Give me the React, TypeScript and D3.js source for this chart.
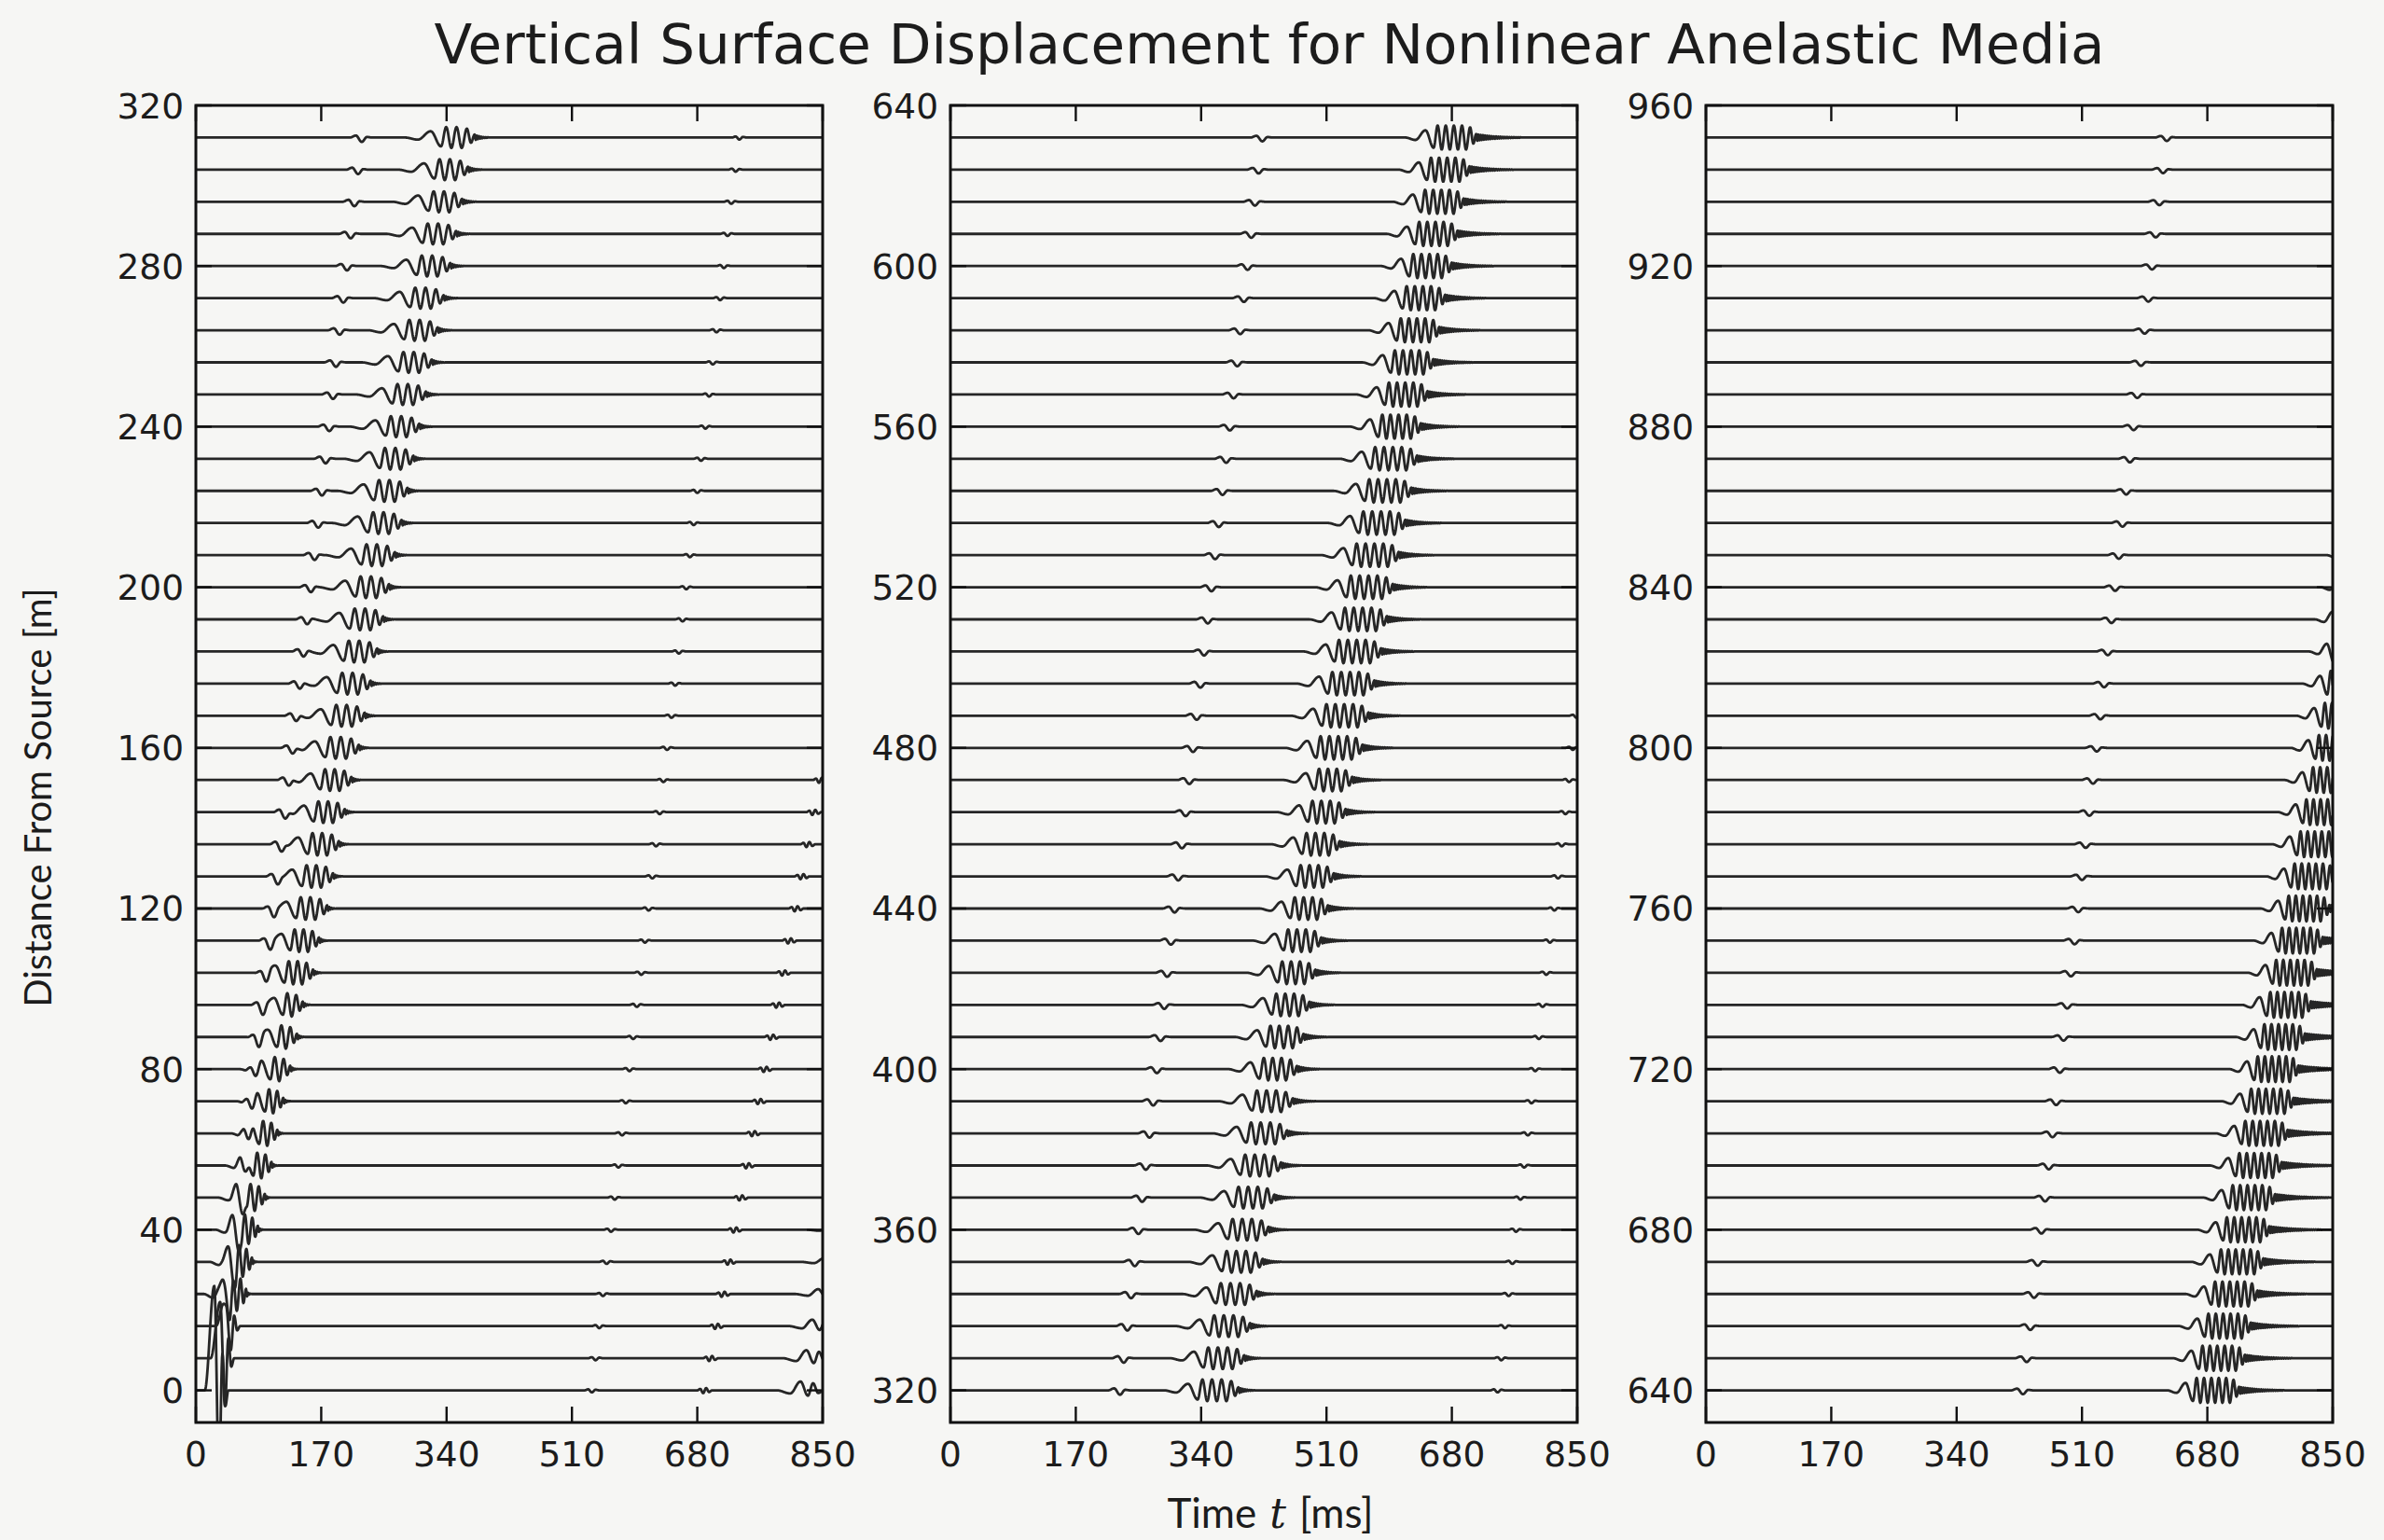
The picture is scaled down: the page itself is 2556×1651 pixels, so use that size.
import React, { useMemo } from "react";
import * as d3 from "d3";

// ---------------- DATA ----------------
const TITLE = "Vertical Surface Displacement for Nonlinear Anelastic Media";
const Y_LABEL = "Distance From Source [m]";
const X_TICKS = [0, 170, 340, 510, 680, 850];
const TIME_DOMAIN: [number, number] = [0, 850];
const Y_TICKS = [
  [0, 40, 80, 120, 160, 200, 240, 280, 320],
  [320, 360, 400, 440, 480, 520, 560, 600, 640],
  [640, 680, 720, 760, 800, 840, 880, 920, 960],
];
const Y_DOMAINS: [number, number][] = [
  [-8, 320],
  [312, 640],
  [632, 960],
];

// receiver offsets [m]
const OFFSETS = [
  0, 8, 16, 24, 32, 40, 48, 56, 64, 72, 80, 88, 96, 104, 112, 120, 128, 136, 144, 152,
  160, 168, 176, 184, 192, 200, 208, 216, 224, 232, 240, 248, 256, 264, 272, 280, 288, 296, 304, 312,
  320, 328, 336, 344, 352, 360, 368, 376, 384, 392, 400, 408, 416, 424, 432, 440, 448, 456, 464, 472,
  480, 488, 496, 504, 512, 520, 528, 536, 544, 552, 560, 568, 576, 584, 592, 600, 608, 616, 624, 632,
  640, 648, 656, 664, 672, 680, 688, 696, 704, 712, 720, 728, 736, 744, 752, 760, 768, 776, 784, 792,
  800, 808, 816, 824, 832, 840, 848, 856, 864, 872, 880, 888, 896, 904, 912, 920, 928, 936, 944, 952,
];

// direct P arrival (centre of small wiggle) [ms]
const P_TIME = [
  28, 33, 38, 43, 48, 53, 58, 63, 68, 73, 78, 82, 87, 92, 97, 102, 107, 112, 117, 122,
  127, 132, 137, 142, 147, 152, 157, 162, 167, 172, 177, 182, 186, 191, 196, 201, 206, 211, 216, 221,
  226, 231, 236, 241, 246, 251, 256, 261, 266, 271, 276, 281, 286, 290, 295, 300, 305, 310, 315, 320,
  325, 330, 335, 340, 345, 350, 355, 360, 365, 370, 375, 380, 385, 389, 394, 399, 404, 409, 414, 419,
  426, 431, 436, 441, 446, 451, 456, 461, 466, 471, 476, 481, 486, 491, 496, 501, 506, 511, 516, 521,
  526, 531, 536, 541, 546, 551, 556, 561, 566, 571, 576, 581, 586, 591, 596, 601, 606, 611, 616, 621,
];
// P amplitude [m]
const P_AMP = [
  0, 0, 2, 3, 3.5, 4, 4, 3.4, 3, 2.6, 2.3, 2.1, 1.9, 1.8, 1.7, 1.6, 1.5, 1.45, 1.4, 1.35,
  1.3, 1.3, 1.25, 1.25, 1.2, 1.2, 1.2, 1.15, 1.15, 1.15, 1.1, 1.1, 1.1, 1.1, 1.1, 1.1, 1.1, 1.1, 1.1, 1.1,
  1.1, 1.1, 1.1, 1.05, 1.05, 1.05, 1.05, 1.05, 1.05, 1.05, 1, 1, 1, 1, 1, 1, 1, 1, 1, 1,
  1, 1, 1, 1, 1, 1, 1, 1, 1, 1, 0.95, 0.95, 0.95, 0.95, 0.95, 0.95, 0.95, 0.95, 0.95, 0.95,
  0.95, 0.95, 0.95, 0.95, 0.95, 0.95, 0.95, 0.95, 0.95, 0.95, 0.9, 0.9, 0.9, 0.9, 0.9, 0.9, 0.9, 0.9, 0.9, 0.9,
  0.9, 0.9, 0.9, 0.9, 0.9, 0.9, 0.9, 0.9, 0.9, 0.9, 0.85, 0.85, 0.85, 0.85, 0.85, 0.85, 0.85, 0.85, 0.85, 0.85,
];

// surface-wave packet centre [ms]
const R_TIME = [
  28, 36, 44, 53, 61, 69, 77, 86, 94, 102, 110, 119, 127, 135, 143, 152, 160, 168, 176, 185,
  193, 201, 209, 218, 226, 234, 242, 251, 259, 267, 275, 284, 292, 300, 308, 317, 325, 333, 341, 350,
  358, 366, 374, 383, 391, 399, 407, 416, 424, 432, 440, 449, 457, 465, 473, 482, 490, 498, 506, 515,
  523, 531, 539, 548, 556, 564, 572, 581, 589, 597, 605, 614, 622, 630, 638, 647, 655, 663, 671, 680,
  688, 696, 704, 713, 721, 729, 737, 746, 754, 762, 770, 779, 787, 795, 803, 812, 820, 828, 836, 845,
  853, 861, 869, 878, 886, 894, 902, 911, 919, 927, 935, 944, 952, 960, 968, 977, 985, 993, 1001, 1010,
];
// surface-wave amplitude [m]
const R_AMP = [
  26, 14, 7, 4.5, 3.8, 3.5, 3.3, 3.2, 3.1, 3, 3, 2.9, 2.9, 2.9, 2.8, 2.8, 2.8, 2.8, 2.7, 2.7,
  2.7, 2.7, 2.7, 2.7, 2.7, 2.7, 2.7, 2.7, 2.7, 2.7, 2.6, 2.6, 2.6, 2.6, 2.6, 2.6, 2.6, 2.6, 2.6, 2.6,
  2.7, 2.7, 2.7, 2.7, 2.7, 2.7, 2.7, 2.7, 2.7, 2.7, 2.8, 2.8, 2.8, 2.8, 2.8, 2.8, 2.8, 2.8, 2.8, 2.8,
  2.9, 2.9, 2.9, 2.9, 2.9, 2.9, 2.9, 2.9, 2.9, 2.9, 3, 3, 3, 3, 3, 3, 3, 3, 3, 3,
  3.1, 3.1, 3.1, 3.1, 3.1, 3.1, 3.1, 3.1, 3.1, 3.1, 3.2, 3.2, 3.2, 3.2, 3.2, 3.2, 3.2, 3.2, 3.2, 3.2,
  3.2, 3.2, 3.2, 3.2, 3.2, 3.2, 3.2, 3.2, 3.2, 3.2, 3.3, 3.3, 3.3, 3.3, 3.3, 3.3, 3.3, 3.3, 3.3, 3.3,
];
// number of main cycles in the packet (0 = near-source pulse)
const R_CYCLES = [
  0, 0, 0, 2, 2, 2, 2, 2, 2, 2, 2, 2, 2, 3, 3, 3, 3, 3, 3, 3,
  3, 3, 3, 3, 3, 3, 3, 3, 3, 3, 3, 3, 3, 3, 3, 3, 3, 3, 3, 3,
  4, 4, 4, 4, 4, 4, 4, 4, 4, 4, 4, 4, 4, 4, 4, 4, 4, 4, 4, 4,
  5, 5, 5, 5, 5, 5, 5, 5, 5, 5, 5, 5, 5, 5, 5, 5, 5, 5, 5, 5,
  6, 6, 6, 6, 6, 6, 6, 6, 6, 6, 6, 6, 6, 6, 6, 6, 6, 6, 6, 6,
  6, 6, 6, 6, 6, 6, 6, 6, 6, 6, 6, 6, 6, 6, 6, 6, 6, 6, 6, 6,
];
// half period of the main cycles [ms]
const R_HALF = [
  7, 6, 5.5, 5, 5, 5, 5.5, 5.5, 5.5, 5.5, 6, 6, 6, 6, 6, 6.5, 6.5, 6.5, 6.5, 6.5,
  7, 7, 7, 7, 7, 7, 7, 7, 7, 7, 7, 7, 7, 7, 7, 7, 7, 7, 7, 7,
  6.5, 6.5, 6.5, 6.5, 6.5, 6.5, 6.5, 6.5, 6.5, 6.5, 6, 6, 6, 6, 6, 6, 6, 6, 6, 6,
  6, 6, 6, 6, 6, 6, 6, 6, 6, 6, 5.5, 5.5, 5.5, 5.5, 5.5, 5.5, 5.5, 5.5, 5.5, 5.5,
  5, 5, 5, 5, 5, 5, 5, 5, 5, 5, 4.8, 4.8, 4.8, 4.8, 4.8, 4.8, 4.8, 4.8, 4.8, 4.8,
  4.8, 4.8, 4.8, 4.8, 4.8, 4.8, 4.8, 4.8, 4.8, 4.8, 4.6, 4.6, 4.6, 4.6, 4.6, 4.6, 4.6, 4.6, 4.6, 4.6,
];
// high-frequency coda length after the packet [ms]
const R_TAIL = [
  0, 0, 0, 5, 5, 6, 6, 7, 7, 8, 8, 9, 9, 10, 10, 10, 11, 11, 12, 12,
  12, 13, 13, 13, 14, 14, 14, 15, 15, 15, 16, 16, 16, 17, 17, 17, 18, 18, 18, 18,
  20, 21, 22, 23, 24, 25, 26, 27, 28, 29, 30, 31, 32, 33, 34, 35, 36, 37, 38, 39,
  40, 41, 42, 43, 44, 45, 46, 47, 48, 49, 50, 51, 52, 53, 54, 55, 56, 57, 58, 60,
  60, 62, 64, 66, 68, 70, 72, 74, 76, 78, 80, 82, 84, 86, 88, 90, 92, 94, 96, 98,
  100, 100, 100, 100, 100, 100, 100, 100, 100, 100, 100, 100, 100, 100, 100, 100, 100, 100, 100, 100,
];

// weak later arrivals (offsets 0..488, 0..152, 0..40)
const C_TIME = [
  535, 540, 545, 550, 555, 561, 566, 571, 576, 581, 586, 591, 596, 602, 607, 612, 617, 622, 627, 632,
  637, 643, 648, 653, 658, 663, 668, 673, 678, 683, 689, 694, 699, 704, 709, 714, 719, 724, 730, 735,
  740, 745, 750, 755, 760, 765, 771, 776, 781, 786, 791, 796, 801, 806, 811, 817, 822, 827, 832, 837,
  842, 847,
];
const C_AMP = 0.5;
const D_TIME = [690, 698, 706, 715, 723, 731, 739, 748, 756, 764, 772, 781, 789, 797, 805, 814, 822, 830, 838, 847];
const D_AMP = 0.7;
const E_TIME = [828, 836, 844, 852, 860, 868];
const E_AMP = [2.2, 2.0, 1.6, 1.2, 0.9, 0.7];

// wavelet shapes: [time offset ms, relative amplitude] extrema
const P_SHAPE: [number, number][] = [[-12, 0], [-4, 0.45], [4, -1], [11, 0.12], [18, 0]];
const NEAR_SHAPE: [number, number][] = [[-16, 0], [-3, 1], [3.5, -0.85], [8, 0.35], [12, -0.15], [16, 0]];
const C_SHAPE: [number, number][] = [[-8, 0], [-3, 0.5], [2, -1], [7, 0.3], [12, 0]];
const D_SHAPE: [number, number][] = [[-10, 0], [-6, 0.5], [-2, -1], [2, 0.8], [6, -0.6], [10, 0]];
const E_SHAPE: [number, number][] = [[-40, 0], [-22, -0.35], [-8, 1], [2, -0.6], [9, 0.8], [16, -0.3], [24, 0]];

// ---------------- LAYOUT ----------------
const W = 2556;
const H = 1651;
const PANEL_LEFTS = [210, 1019, 1829];
const PANEL_W = 672;
const TOP = 113;
const BOTTOM = 1525;
const DT = 0.5;
const NS = Math.round(850 / DT) + 1;

type Ext = [number, number][];

function addExt(buf: Float64Array, ext: Ext) {
  const t0 = ext[0][0];
  const t1 = ext[ext.length - 1][0];
  const i0 = Math.max(0, Math.ceil(t0 / DT));
  const i1 = Math.min(NS - 1, Math.floor(t1 / DT));
  let seg = 0;
  for (let i = i0; i <= i1; i++) {
    const t = i * DT;
    while (seg < ext.length - 2 && t > ext[seg + 1][0]) seg++;
    const [ta, aa] = ext[seg];
    const [tb, ab] = ext[seg + 1];
    const u = tb > ta ? Math.min(1, Math.max(0, (t - ta) / (tb - ta))) : 0;
    buf[i] += aa + ((ab - aa) * (1 - Math.cos(Math.PI * u))) / 2;
  }
}

function shaped(shape: Ext, t: number, amp: number): Ext {
  return shape.map(([dt, a]) => [t + dt, a * amp] as [number, number]);
}

function rayleigh(tR: number, A: number, N: number, h: number, tail: number): Ext {
  if (N === 0) return shaped(NEAR_SHAPE, tR, A);
  const ext: Ext = [];
  const first = tR - ((2 * N - 1) / 2) * h;
  ext.push([first - 7 * h, 0]);
  ext.push([first - 4.5 * h, -0.2 * A]);
  ext.push([first - 2 * h, 0.6 * A]);
  for (let k = 0; k < 2 * N; k++) {
    const sign = k % 2 === 0 ? -1 : 1;
    const env = k === 0 || k === 2 * N - 1 ? 0.85 : 1;
    ext.push([first + k * h, sign * env * A]);
  }
  let t = first + (2 * N - 1) * h;
  t += 0.8 * h;
  ext.push([t, -0.5 * A]);
  t += 0.7 * h;
  ext.push([t, 0.28 * A]);
  const hr = 1.5;
  let s = 0;
  let sign = -1;
  while (s < tail) {
    t += hr;
    s += hr;
    ext.push([t, sign * 0.28 * A * Math.exp((-2.5 * s) / tail)]);
    sign = -sign;
  }
  t += hr;
  ext.push([t, 0]);
  return ext;
}

function buildTrace(i: number): [number, number][] {
  const buf = new Float64Array(NS);
  if (P_AMP[i] > 0) addExt(buf, shaped(P_SHAPE, P_TIME[i], P_AMP[i]));
  addExt(buf, rayleigh(R_TIME[i], R_AMP[i], R_CYCLES[i], R_HALF[i], R_TAIL[i]));
  if (i < C_TIME.length) addExt(buf, shaped(C_SHAPE, C_TIME[i], C_AMP));
  if (i < D_TIME.length) addExt(buf, shaped(D_SHAPE, D_TIME[i], D_AMP));
  if (i < E_TIME.length) addExt(buf, shaped(E_SHAPE, E_TIME[i], E_AMP[i]));
  const off = OFFSETS[i];
  const pts: [number, number][] = [];
  const eps = 1e-6;
  for (let k = 0; k < NS; k++) {
    const keep =
      k === 0 ||
      k === NS - 1 ||
      Math.abs(buf[k]) > eps ||
      Math.abs(buf[k - 1]) > eps ||
      Math.abs(buf[k + 1]) > eps;
    if (keep) pts.push([k * DT, off + buf[k]]);
  }
  return pts;
}

const TEXT = "#1c1c1c";
const LINE = "#262626";

function Panel({ p }: { p: number }) {
  const left = PANEL_LEFTS[p];
  const xs = d3.scaleLinear().domain(TIME_DOMAIN).range([left, left + PANEL_W]);
  const ys = d3.scaleLinear().domain(Y_DOMAINS[p]).range([BOTTOM, TOP]);
  const line = d3
    .line<[number, number]>()
    .x((d) => xs(d[0]))
    .y((d) => ys(d[1]));
  if ((line as any).digits) (line as any).digits(2);
  const paths = useMemo(() => {
    const out: string[] = [];
    for (let j = 0; j < 40; j++) {
      const i = p * 40 + j;
      out.push(line(buildTrace(i)) || "");
    }
    return out;
  }, [p]);
  const clipId = `clip-${p}`;
  const tickLen = 17;
  return (
    <g>
      <defs>
        <clipPath id={clipId}>
          <rect x={left} y={TOP} width={PANEL_W} height={BOTTOM - TOP} />
        </clipPath>
      </defs>
      <g clipPath={`url(#${clipId})`}>
        {paths.map((d, j) => (
          <path key={j} d={d} fill="none" stroke={LINE} strokeWidth={2.8} strokeLinejoin="round" />
        ))}
      </g>
      {X_TICKS.map((t) => (
        <g key={"xt" + t}>
          <line x1={xs(t)} x2={xs(t)} y1={BOTTOM} y2={BOTTOM - tickLen} stroke="#111" strokeWidth={2.4} />
          <line x1={xs(t)} x2={xs(t)} y1={TOP} y2={TOP + tickLen} stroke="#111" strokeWidth={2.4} />
          <text
            x={xs(t)}
            y={1572}
            textAnchor="middle"
            fontFamily="DejaVu Sans"
            fontSize={37.5}
            fill={TEXT}
          >
            {t}
          </text>
        </g>
      ))}
      {Y_TICKS[p].map((v) => (
        <g key={"yt" + v}>
          <line x1={left} x2={left + tickLen} y1={ys(v)} y2={ys(v)} stroke="#111" strokeWidth={2.4} />
          <line
            x1={left + PANEL_W}
            x2={left + PANEL_W - tickLen}
            y1={ys(v)}
            y2={ys(v)}
            stroke="#111"
            strokeWidth={2.4}
          />
          <text
            x={left - 13}
            y={ys(v)}
            dy="0.36em"
            textAnchor="end"
            fontFamily="DejaVu Sans"
            fontSize={37.5}
            fill={TEXT}
          >
            {v}
          </text>
        </g>
      ))}
      <rect
        x={left}
        y={TOP}
        width={PANEL_W}
        height={BOTTOM - TOP}
        fill="none"
        stroke="#111"
        strokeWidth={3}
      />
    </g>
  );
}

export default function App() {
  return (
    <svg
      width={W}
      height={H}
      viewBox={`0 0 ${W} ${H}`}
      style={{ position: "absolute", left: 0, top: 0, display: "block" }}
    >
      <rect x={0} y={0} width={W} height={H} fill="#f6f6f4" />
      <text
        x={1361}
        y={68}
        textAnchor="middle"
        fontFamily="DejaVu Sans"
        fontSize={59.5}
        fill={TEXT}
      >
        {TITLE}
      </text>
      {[0, 1, 2].map((p) => (
        <Panel key={p} p={p} />
      ))}
      <text
        transform="translate(55,855) rotate(-90)"
        textAnchor="middle"
        fontFamily="Lato"
        fontSize={40}
        fill={TEXT}
      >
        {Y_LABEL}
      </text>
      <text x={1362} y={1638} textAnchor="middle" fontFamily="Lato" fontSize={44} fill={TEXT}>
        {"Time"}
        <tspan dx={14} fontStyle="italic" fontFamily="DejaVu Serif">t</tspan>
        <tspan dx={14}>{"[ms]"}</tspan>
      </text>
    </svg>
  );
}
